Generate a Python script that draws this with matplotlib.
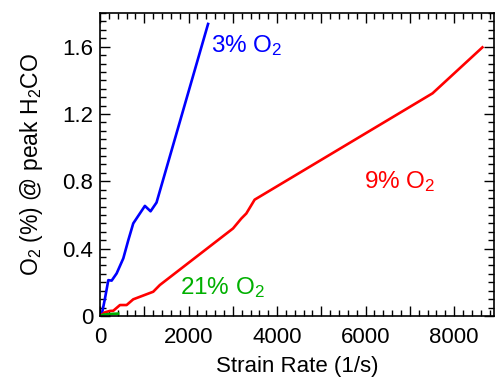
import numpy as np
import matplotlib
matplotlib.use("Agg")
import matplotlib.pyplot as plt
from matplotlib.ticker import MultipleLocator, FuncFormatter

plt.rcParams['font.family'] = ['Liberation Sans', 'DejaVu Sans']
plt.rcParams['mathtext.fontset'] = 'custom'
plt.rcParams['mathtext.rm'] = 'Liberation Sans'
plt.rcParams['mathtext.it'] = 'Liberation Sans'

# 3% O2
x_3 = [0, 38, 113, 188, 263, 376, 526, 639, 751, 1014, 1142, 1277, 2441]
y_3 = [0.0, 0.006, 0.105, 0.213, 0.21, 0.253, 0.342, 0.45, 0.55, 0.654, 0.622, 0.674, 1.735]

# 9% O2
x_9 = [0, 113, 225, 300, 451, 601, 751, 1202, 1352, 3005, 3192, 3305, 3493, 7512, 8638]
y_9 = [0.0, 0.022, 0.03, 0.031, 0.065, 0.065, 0.099, 0.144, 0.184, 0.52, 0.579, 0.609, 0.691, 1.323, 1.596]

# 21% O2
x_21 = [0, 80, 200, 300, 410]
y_21 = [0.0, 0.008, 0.011, 0.013, 0.014]

fig = plt.figure(figsize=(4.99, 3.83), dpi=100)
ax = fig.add_axes([0.2004, 0.175, 0.7896, 0.791])

ax.plot(x_3, y_3, color='#0000ff', lw=1.9)
ax.plot(x_9, y_9, color='#ff0000', lw=1.9)
ax.plot(x_21, y_21, color='#00b000', lw=1.9)

ax.set_xlim(0, 8900)
ax.set_ylim(0, 1.8)

ax.xaxis.set_major_locator(MultipleLocator(1000))
ax.xaxis.set_minor_locator(MultipleLocator(200))
ax.xaxis.set_major_formatter(FuncFormatter(lambda v, p: '%d' % v if int(round(v)) % 2000 == 0 else ''))
ax.yaxis.set_major_locator(MultipleLocator(0.4))
ax.yaxis.set_minor_locator(MultipleLocator(0.05))
ax.yaxis.set_major_formatter(FuncFormatter(lambda v, p: '0' if abs(v) < 1e-9 else '%.1f' % v))

ax.tick_params(which='both', direction='in', top=True, right=True, labelsize=16, width=1.0)
ax.tick_params(which='major', length=7)
ax.tick_params(which='minor', length=4)
ax.tick_params(axis='x', which='major', pad=8)
ax.tick_params(axis='y', which='major', pad=5)
for s in ax.spines.values():
    s.set_linewidth(1.2)

ax.set_xlabel('Strain Rate (1/s)', fontsize=16, labelpad=6)
ax.set_ylabel('O$_2$ (%) @ peak H$_2$CO', fontsize=16.5, labelpad=12)

ax.text(2500, 1.57, '3% O$_2$', color='#0000ff', fontsize=17.5, va='baseline')
ax.text(5970, 0.758, '9% O$_2$', color='#ff0000', fontsize=17.5, va='baseline')
ax.text(1800, 0.13, '21% O$_2$', color='#00b000', fontsize=17.5, va='baseline')

fig.savefig('out.png', dpi=100)
